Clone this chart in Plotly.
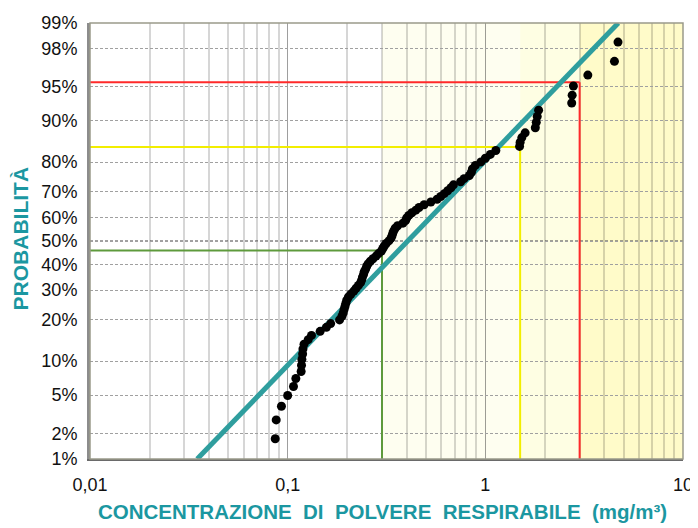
"""Carta probabilistica log-normale della polvere respirabile."""

from statistics import NormalDist

import plotly.graph_objects as go

# Campioni ordinati: concentrazione (mg/m3) e probabilità cumulata (%)
CONC = [
    0.0865, 0.0875, 0.093, 0.100, 0.107, 0.110, 0.117, 0.1175, 0.118, 0.119,
    0.1195, 0.121, 0.127, 0.132, 0.146, 0.157, 0.165, 0.183, 0.188, 0.191,
    0.193, 0.195, 0.197, 0.199, 0.203, 0.209, 0.216, 0.222, 0.228, 0.234,
    0.237, 0.239, 0.242, 0.244, 0.248, 0.251, 0.255, 0.262, 0.270, 0.280,
    0.288, 0.298, 0.303, 0.308, 0.315, 0.325, 0.333, 0.337, 0.340, 0.344,
    0.350, 0.360, 0.383, 0.395, 0.400, 0.410, 0.425, 0.445, 0.462, 0.490,
    0.530, 0.570, 0.595, 0.620, 0.645, 0.670, 0.690, 0.750, 0.780, 0.830,
    0.850, 0.860, 0.890, 0.950, 1.000, 1.060, 1.130, 1.490, 1.500, 1.530,
    1.590, 1.790, 1.810, 1.830, 1.860, 2.735, 2.750, 2.790, 3.300, 4.500,
    4.690,
]
PROB = [
    1.74, 2.81, 3.89, 4.96, 6.03, 7.11, 8.18, 9.25, 10.32, 11.40,
    12.47, 13.54, 14.62, 15.69, 16.76, 17.84, 18.91, 19.98, 21.05, 22.13,
    23.20, 24.27, 25.35, 26.42, 27.49, 28.57, 29.64, 30.71, 31.78, 32.86,
    33.93, 35.00, 36.08, 37.15, 38.22, 39.30, 40.37, 41.44, 42.51, 43.59,
    44.66, 45.73, 46.81, 47.88, 48.95, 50.03, 51.10, 52.17, 53.24, 54.32,
    55.39, 56.46, 57.54, 58.61, 59.68, 60.76, 61.83, 62.90, 63.97, 65.05,
    66.12, 67.19, 68.27, 69.34, 70.41, 71.49, 72.56, 73.63, 74.70, 75.78,
    76.85, 77.92, 79.00, 80.07, 81.14, 82.22, 83.29, 84.36, 85.43, 86.51,
    87.58, 88.65, 89.73, 90.80, 91.87, 92.95, 94.02, 95.09, 96.17, 97.24,
    98.31,
]

# Retta di adattamento log-normale
FIT_GM = 0.405
FIT_GSD = 2.87

# Soglie di riferimento: (concentrazione, probabilità %, colore)
SOGLIE = [
    (3.0, 95.5, "#FF2A2A"),
    (1.5, 84.2, "#F2EE00"),
    (0.3, 46.0, "#5E9A3C"),
]

Y_TICKS = [1, 2, 5, 10, 20, 30, 40, 50, 60, 70, 80, 90, 95, 98, 99]
X_TICKS = [0.01, 0.1, 1, 10]
X_LABELS = ["0,01", "0,1", "1", "10"]

_TEAL = "#1B97A1"
_FONT = "Liberation Sans, Arial, sans-serif"
_ND = NormalDist()


def z(p_percent: float) -> float:
    return _ND.inv_cdf(p_percent / 100.0)


fig = go.Figure()

# Retta teorica tra 1% e 99%
z_lo, z_hi = z(1), z(99)
fit_x = [FIT_GM * FIT_GSD ** z_lo, FIT_GM * FIT_GSD ** z_hi]
fig.add_trace(go.Scatter(
    x=fit_x,
    y=[z_lo, z_hi],
    mode="lines",
    line=dict(color="#2F9E9E", width=5),
    hoverinfo="skip",
))

# Punti sperimentali
fig.add_trace(go.Scatter(
    x=CONC,
    y=[z(p) for p in PROB],
    mode="markers",
    marker=dict(color="black", size=9),
))

shapes = []
# Fasce di sfondo
for x0, x1, col in [(0.3, 1.5, "#FEFEF0"), (1.5, 3, "#FEFEE3"), (3, 10, "#FFFBC9")]:
    shapes.append(dict(
        type="rect", xref="x", yref="paper", x0=x0, x1=x1, y0=0, y1=1,
        fillcolor=col, line=dict(width=0), layer="below",
    ))

# Linea del 50% più scura
shapes.append(dict(
    type="line", xref="paper", yref="y", x0=0, x1=1, y0=0, y1=0,
    line=dict(color="#444444", width=1, dash="3px,2px"), layer="between",
))

# Linee di soglia
for cx, cp, col in SOGLIE:
    shapes.append(dict(
        type="line", xref="x", yref="y", x0=0.01, x1=cx, y0=z(cp), y1=z(cp),
        line=dict(color=col, width=2), layer="between",
    ))
    shapes.append(dict(
        type="line", xref="x", yref="y", x0=cx, x1=cx, y0=z(1), y1=z(cp),
        line=dict(color=col, width=2), layer="between",
    ))

# Cornice
shapes.append(dict(
    type="rect", xref="paper", yref="paper", x0=0, x1=1, y0=0, y1=1,
    line=dict(color="#9a9a8a", width=1.5), layer="above",
))

minor_vals = [m * 10 ** e for e in (-2, -1, 0) for m in range(2, 10)]

fig.update_layout(
    width=690,
    height=520,
    paper_bgcolor="white",
    plot_bgcolor="white",
    showlegend=False,
    margin=dict(l=82, r=11, t=5, b=69),
    font=dict(family=_FONT, size=18, color="#111111"),
    shapes=shapes,
    xaxis=dict(
        type="log",
        range=[-2, 1],
        tickvals=X_TICKS,
        ticktext=X_LABELS,
        ticks="",
        ticklabelstandoff=8,
        ticklabeloverflow="allow",
        showgrid=True,
        gridcolor="rgba(0,0,0,0.38)",
        gridwidth=1,
        minor=dict(
            tickvals=minor_vals,
            showgrid=True,
            gridcolor="rgba(0,0,0,0.16)",
            gridwidth=1.5,
            ticks="",
        ),
        showline=True,
        linecolor="#6a6a6a",
        linewidth=2,
        zeroline=False,
    ),
    yaxis=dict(
        range=[z(1), z(99)],
        tickvals=[z(p) for p in Y_TICKS],
        ticktext=[f"{p}%" for p in Y_TICKS],
        ticks="",
        ticklabelstandoff=6,
        ticklabeloverflow="allow",
        showgrid=True,
        gridcolor="#a0a0a0",
        griddash="3px,2px",
        gridwidth=1,
        showline=True,
        linecolor="#8c8c8c",
        linewidth=3,
        zeroline=False,
    ),
    annotations=[
        dict(
            text="PROBABILITÀ",
            xref="paper", yref="paper",
            x=-0.117, y=0.505,
            xanchor="center", yanchor="middle",
            textangle=-90,
            showarrow=False,
            font=dict(size=21, color=_TEAL, family=_FONT, weight="bold"),
        ),
        dict(
            text="CONCENTRAZIONE  DI  POLVERE  RESPIRABILE  (mg/m³)",
            xref="paper", yref="paper",
            x=0.493, y=-0.121,
            xanchor="center", yanchor="middle",
            showarrow=False,
            font=dict(size=20.5, color=_TEAL, family=_FONT, weight="bold"),
        ),
    ],
)

fig.write_html("out.html")
